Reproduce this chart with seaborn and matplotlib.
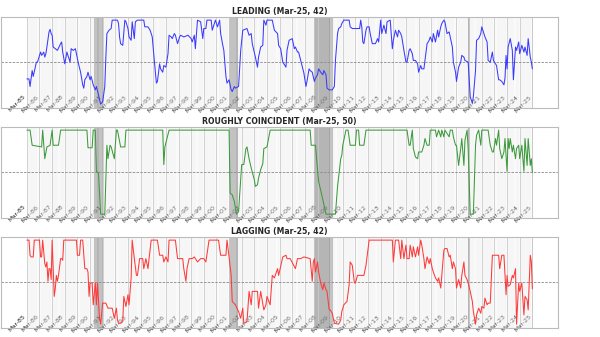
import numpy as np
import pandas as pd
import matplotlib
matplotlib.use("Agg")
import matplotlib.pyplot as plt
import matplotlib.dates as mdates
from matplotlib.ticker import FixedLocator
import seaborn as sns

# ---------------- data (months since Mar-1985, value %) ----------------
lead_m = [0, 2, 3, 5, 6, 9, 10, 13, 14, 16, 17, 18, 19, 21, 22, 23, 24, 25, 27, 29, 32, 33, 34, 36, 38, 40, 41, 42, 44, 46,
          47, 49, 51, 53, 54, 55, 57, 58, 60, 61, 63, 65, 66, 68, 69, 70, 72, 74, 75, 76, 78, 80, 81, 86, 87, 88, 89, 91, 93, 94,
          96, 97, 99, 100, 102, 103, 105, 111, 112, 115, 117, 119, 121, 123, 124, 126, 127, 129, 130, 132, 134, 135, 137, 138, 140, 141, 143, 145, 146, 149,
          153, 156, 157, 159, 160, 162, 165, 167, 168, 170, 171, 175, 176, 178, 179, 181, 183, 184, 186, 187, 189, 190, 192, 194, 195, 197, 198, 201, 203, 205,
          209, 211, 213, 214, 217, 219, 220, 222, 224, 225, 227, 228, 233, 235, 238, 239, 241, 243, 246, 247, 249, 252, 254, 255, 257, 258, 260,
          263, 265, 266, 268, 269, 271, 273, 274, 276, 277, 279, 281, 282, 284, 285, 287, 290, 292, 293, 295, 296, 298, 299, 301, 306, 307, 309, 316,
          317, 318, 319, 320, 322, 323, 325, 326, 328, 331, 333, 334, 336, 337, 339, 341, 342, 345, 347, 348, 350, 352, 353, 355, 356, 358, 360, 361, 363, 364,
          366, 367, 369, 371, 372, 374, 375, 377, 378, 380, 382, 383, 385, 386, 388, 390, 391, 393, 394, 396, 397, 399, 401, 402, 404, 405, 407, 408, 410, 412,
          413, 415, 416, 419, 421, 423, 424, 426, 427, 429, 431, 432, 434, 435, 437, 438, 440, 442, 443, 445, 446, 448, 449, 451, 453, 454, 455, 456, 457, 459,
          461, 462, 464, 465, 467, 468, 470, 472, 473, 475, 476, 478, 479, 480]
lead_v = [30, 30, 21, 40, 33, 50, 50, 62, 58, 62, 56, 60, 68, 86, 89, 84, 82, 68, 66, 64, 72, 74, 62, 48, 62, 54, 50, 66, 64, 66,
          60, 48, 38, 23, 19, 29, 33, 38, 29, 33, 23, 17, 21, 11, 5, 0, 3, 21, 56, 84, 88, 90, 100, 100, 96, 80, 72, 70, 100, 98,
          90, 80, 76, 98, 78, 98, 100, 100, 92, 92, 88, 80, 52, 25, 27, 48, 42, 38, 46, 44, 60, 82, 80, 78, 84, 82, 72, 80, 82, 80,
          82, 78, 74, 82, 66, 100, 98, 78, 90, 90, 100, 100, 88, 96, 100, 92, 100, 84, 70, 64, 33, 25, 29, 17, 15, 21, 19, 21, 64, 88,
          90, 82, 84, 72, 56, 44, 56, 68, 70, 100, 94, 100, 100, 88, 84, 70, 66, 50, 44, 64, 76, 78, 66, 68, 62, 62, 52,
          37, 21, 27, 42, 40, 38, 27, 31, 35, 42, 38, 35, 40, 35, 19, 17, 17, 21, 52, 84, 90, 92, 96, 100, 100, 92, 90, 90,
          100, 92, 74, 72, 88, 92, 92, 84, 72, 72, 78, 74, 100, 84, 94, 84, 98, 100, 66, 76, 88, 80, 88, 84, 80, 64, 50, 50, 64, 66,
          60, 52, 52, 48, 38, 46, 42, 42, 52, 72, 76, 80, 74, 84, 74, 88, 80, 92, 96, 100, 98, 84, 86, 80, 68, 50, 38, 27, 44, 50,
          58, 56, 52, 50, 9, 1, 9, 40, 76, 78, 84, 92, 84, 80, 74, 52, 50, 62, 52, 48, 46, 29, 29, 27, 23, 31, 58, 42, 68, 78,
          64, 29, 68, 64, 74, 60, 70, 62, 68, 58, 78, 56, 50, 42]

coin_m = [0, 3, 5, 14, 15, 17, 19, 22, 24, 25, 30, 32, 57, 58, 62, 63, 65, 66, 68, 70, 74, 76, 77, 79, 80, 83, 85, 86, 89, 93,
          94, 129, 130, 131, 135, 192, 193, 195, 197, 199, 201, 204, 206, 208, 209, 211, 213, 216, 217, 219, 220, 222, 224, 225, 228, 231,
          269, 270, 274, 277, 280, 284, 293, 295, 298, 299, 300, 303, 305, 307, 312, 313, 315, 316, 320, 322, 361, 363, 364, 366,
          367, 369, 371, 372, 375, 377, 378, 380, 382, 383, 388, 389, 391, 393, 394, 396, 397, 401, 402, 404, 405, 407, 408, 410,
          412, 413, 415, 416, 418, 419, 421, 424, 426, 427, 429, 431, 432, 438, 440, 442, 443, 445, 446, 448, 449, 451, 453, 454,
          456, 457, 458, 459, 461, 462, 464, 465, 467, 468, 470, 472, 473, 475, 476, 478, 479, 480]
coin_v = [100, 100, 82, 80, 100, 66, 80, 82, 100, 82, 82, 100, 100, 79, 79, 100, 100, 51, 49, 0, 0, 82, 66, 82, 80, 66, 100, 100, 80, 80,
          100, 100, 59, 80, 100, 100, 25, 23, 15, 0, 3, 59, 59, 78, 80, 66, 55, 41, 33, 35, 43, 53, 60, 78, 80, 100,
          100, 82, 82, 39, 23, 0, 0, 33, 66, 70, 82, 100, 100, 82, 82, 100, 100, 82, 82, 100, 100, 82, 82, 100,
          78, 68, 66, 74, 74, 82, 90, 82, 82, 100, 100, 92, 100, 92, 100, 92, 100, 92, 100, 100, 92, 82, 82, 58,
          78, 90, 58, 88, 100, 78, 0, 0, 82, 94, 100, 82, 100, 100, 82, 74, 74, 90, 82, 100, 78, 66, 74, 90,
          51, 90, 78, 90, 74, 82, 66, 78, 82, 66, 82, 51, 90, 58, 90, 58, 66, 50]

lag_m = [0, 2, 3, 4, 6, 7, 12, 13, 14, 15, 17, 18, 19, 20, 21, 22, 23, 24, 26, 27, 28, 29, 30, 32, 33, 34, 35, 47, 48, 50,
         51, 53, 55, 57, 58, 59, 60, 62, 63, 65, 66, 67, 69, 70, 72, 75, 77, 81, 83, 85, 86, 87, 89, 91, 92, 94, 96, 97, 99, 100,
         102, 104, 105, 107, 110, 111, 113, 115, 116, 118, 124, 126, 129, 130, 132, 134, 135, 141, 143, 148, 149, 151, 152, 154, 157, 159, 162, 165, 168, 170,
         173, 182, 184, 189, 190, 192, 194, 195, 198, 201, 203, 205, 206, 209, 211, 213, 214, 219, 220, 222, 225, 227, 228, 231, 233, 235, 238, 239, 243, 246,
         247, 250, 255, 257, 260, 263, 269, 271, 272, 273, 274, 276, 277, 279, 281, 282, 284, 285, 287, 288, 290, 292, 296, 298, 299, 301, 304, 306, 307, 309,
         311, 312, 314, 320, 322, 323, 325, 347, 348, 350, 353, 355, 356, 358, 360, 361, 363, 364, 366, 367, 369, 371, 372, 374, 375, 377, 378, 380, 382, 383,
         385, 386, 388, 390, 391, 393, 394, 396, 397, 399, 401, 402, 404, 405, 407, 408, 410, 412, 413, 415, 416, 418, 419, 421, 423, 424, 426, 427, 429, 431,
         432, 434, 435, 437, 438, 440, 442, 448, 449, 451, 453, 454, 455, 456, 457, 459, 461, 462, 464, 465, 467, 468, 470, 472, 473, 475, 476, 478, 479, 480]
lag_v = [100, 100, 82, 80, 80, 100, 100, 80, 80, 100, 72, 68, 74, 51, 66, 66, 53, 100, 33, 43, 58, 51, 58, 78, 78, 76, 100, 100, 82, 82,
         100, 100, 66, 66, 62, 33, 49, 49, 23, 49, 23, 49, 7, 0, 25, 25, 19, 19, 7, 19, 5, 1, 1, 3, 33, 21, 35, 23, 55, 100,
         78, 58, 58, 78, 78, 66, 78, 66, 78, 100, 100, 82, 82, 74, 80, 74, 100, 100, 78, 78, 66, 51, 66, 78, 78, 80, 74, 78, 78, 74,
         100, 100, 82, 82, 100, 80, 58, 27, 23, 15, 7, 19, 1, 3, 39, 23, 39, 39, 19, 39, 17, 23, 33, 23, 58, 55, 66, 58, 80, 82,
         78, 78, 66, 78, 78, 80, 78, 51, 74, 78, 62, 74, 62, 49, 41, 49, 41, 39, 17, 17, 13, 1, 0, 5, 15, 23, 27, 47, 74, 70,
         49, 49, 58, 58, 70, 80, 100, 100, 74, 100, 100, 78, 100, 78, 94, 78, 78, 94, 80, 92, 80, 92, 82, 100, 94, 78, 66, 80, 72, 78,
         66, 62, 55, 51, 55, 43, 58, 88, 90, 90, 80, 82, 66, 74, 66, 43, 53, 43, 58, 74, 58, 53, 49, 39, 27, 15, 0, 11, 19, 13,
         21, 19, 31, 23, 25, 25, 82, 82, 66, 82, 82, 58, 35, 58, 45, 47, 58, 55, 66, 0, 49, 39, 49, 11, 33, 29, 17, 82, 74, 42]

titles = ["LEADING (Mar-25, 42)", "ROUGHLY COINCIDENT (Mar-25, 50)", "LAGGING (Mar-25, 42)"]
colors = ["#3a3aff", "#3c9a3c", "#ff3a3a"]

rec_start = ["1990-07-01", "2001-03-01", "2007-12-01", "2020-02-01"]
rec_end = ["1991-03-01", "2001-11-01", "2009-06-01", "2020-04-01"]
rec_core_start = ["2008-04-01"]
rec_core_end = ["2009-03-01"]

START = pd.Timestamp("1985-03-01")


def to_dates(months):
    return [START + pd.DateOffset(months=int(m)) for m in months]


years = list(range(1985, 2026))
tick_dates = [pd.Timestamp(f"{y}-03-01") for y in years]
tick_labels = [f"Mar-{y % 100:02d}" for y in years]
month_dates = list(pd.date_range("1985-03-01", "2025-03-01", freq="MS"))

sns.set_style("white")
plt.rcParams["font.family"] = ["DejaVu Sans"]

fig = plt.figure(figsize=(6.0, 3.37), dpi=100)
positions = [[0.002, 0.6795, 0.928, 0.27], [0.002, 0.3531, 0.928, 0.27], [0.002, 0.0267, 0.928, 0.27]]
series = [(lead_m, lead_v), (coin_m, coin_v), (lag_m, lag_v)]

for pos, (mm, vv), title, col in zip(positions, series, titles, colors):
    ax = fig.add_axes(pos)
    d = to_dates(mm)
    # recessions
    for s, e in zip(rec_start, rec_end):
        ax.axvspan(pd.Timestamp(s), pd.Timestamp(e), color="#a4a4a4", lw=0, zorder=0.2)
    for s, e in zip(rec_core_start, rec_core_end):
        ax.axvspan(pd.Timestamp(s), pd.Timestamp(e), color="#8e8e8e", lw=0, zorder=0.25)
    sns.lineplot(x=d, y=vv, ax=ax, color=col, lw=0.75, zorder=3)
    ax.set_xlim(START - pd.Timedelta(days=742), pd.Timestamp("2025-03-01") + pd.Timedelta(days=742))
    ax.set_ylim(-4.6, 103.7)
    ax.xaxis.set_major_locator(FixedLocator(mdates.date2num(tick_dates)))
    ax.xaxis.set_minor_locator(FixedLocator(mdates.date2num(month_dates)))
    ax.set_xticklabels(tick_labels)
    ax.set_yticks([50])
    ax.set_yticklabels([])
    ax.grid(which="minor", axis="x", color="#ebebeb", lw=0.35)
    ax.grid(which="major", axis="x", color="#c0c0c0", lw=0.6)
    ax.grid(which="major", axis="y", color="#8a8a8a", lw=0.6, ls=(0, (3, 1.5)))
    ax.set_axisbelow(True)
    ax.tick_params(axis="x", which="both", length=0, pad=-10, labelsize=4.6, labelcolor="#222222")
    ax.tick_params(axis="y", length=0)
    for lab in ax.get_xticklabels():
        lab.set_rotation(45)
        lab.set_ha("right")
    for sp in ax.spines.values():
        sp.set_color("#bbbbbb")
        sp.set_linewidth(0.8)
    ax.set_xlabel("")
    ax.set_ylabel("")
    ax.set_title(title, fontsize=5.6, fontweight="bold", pad=2.5)

fig.savefig("out.png", dpi=100)
